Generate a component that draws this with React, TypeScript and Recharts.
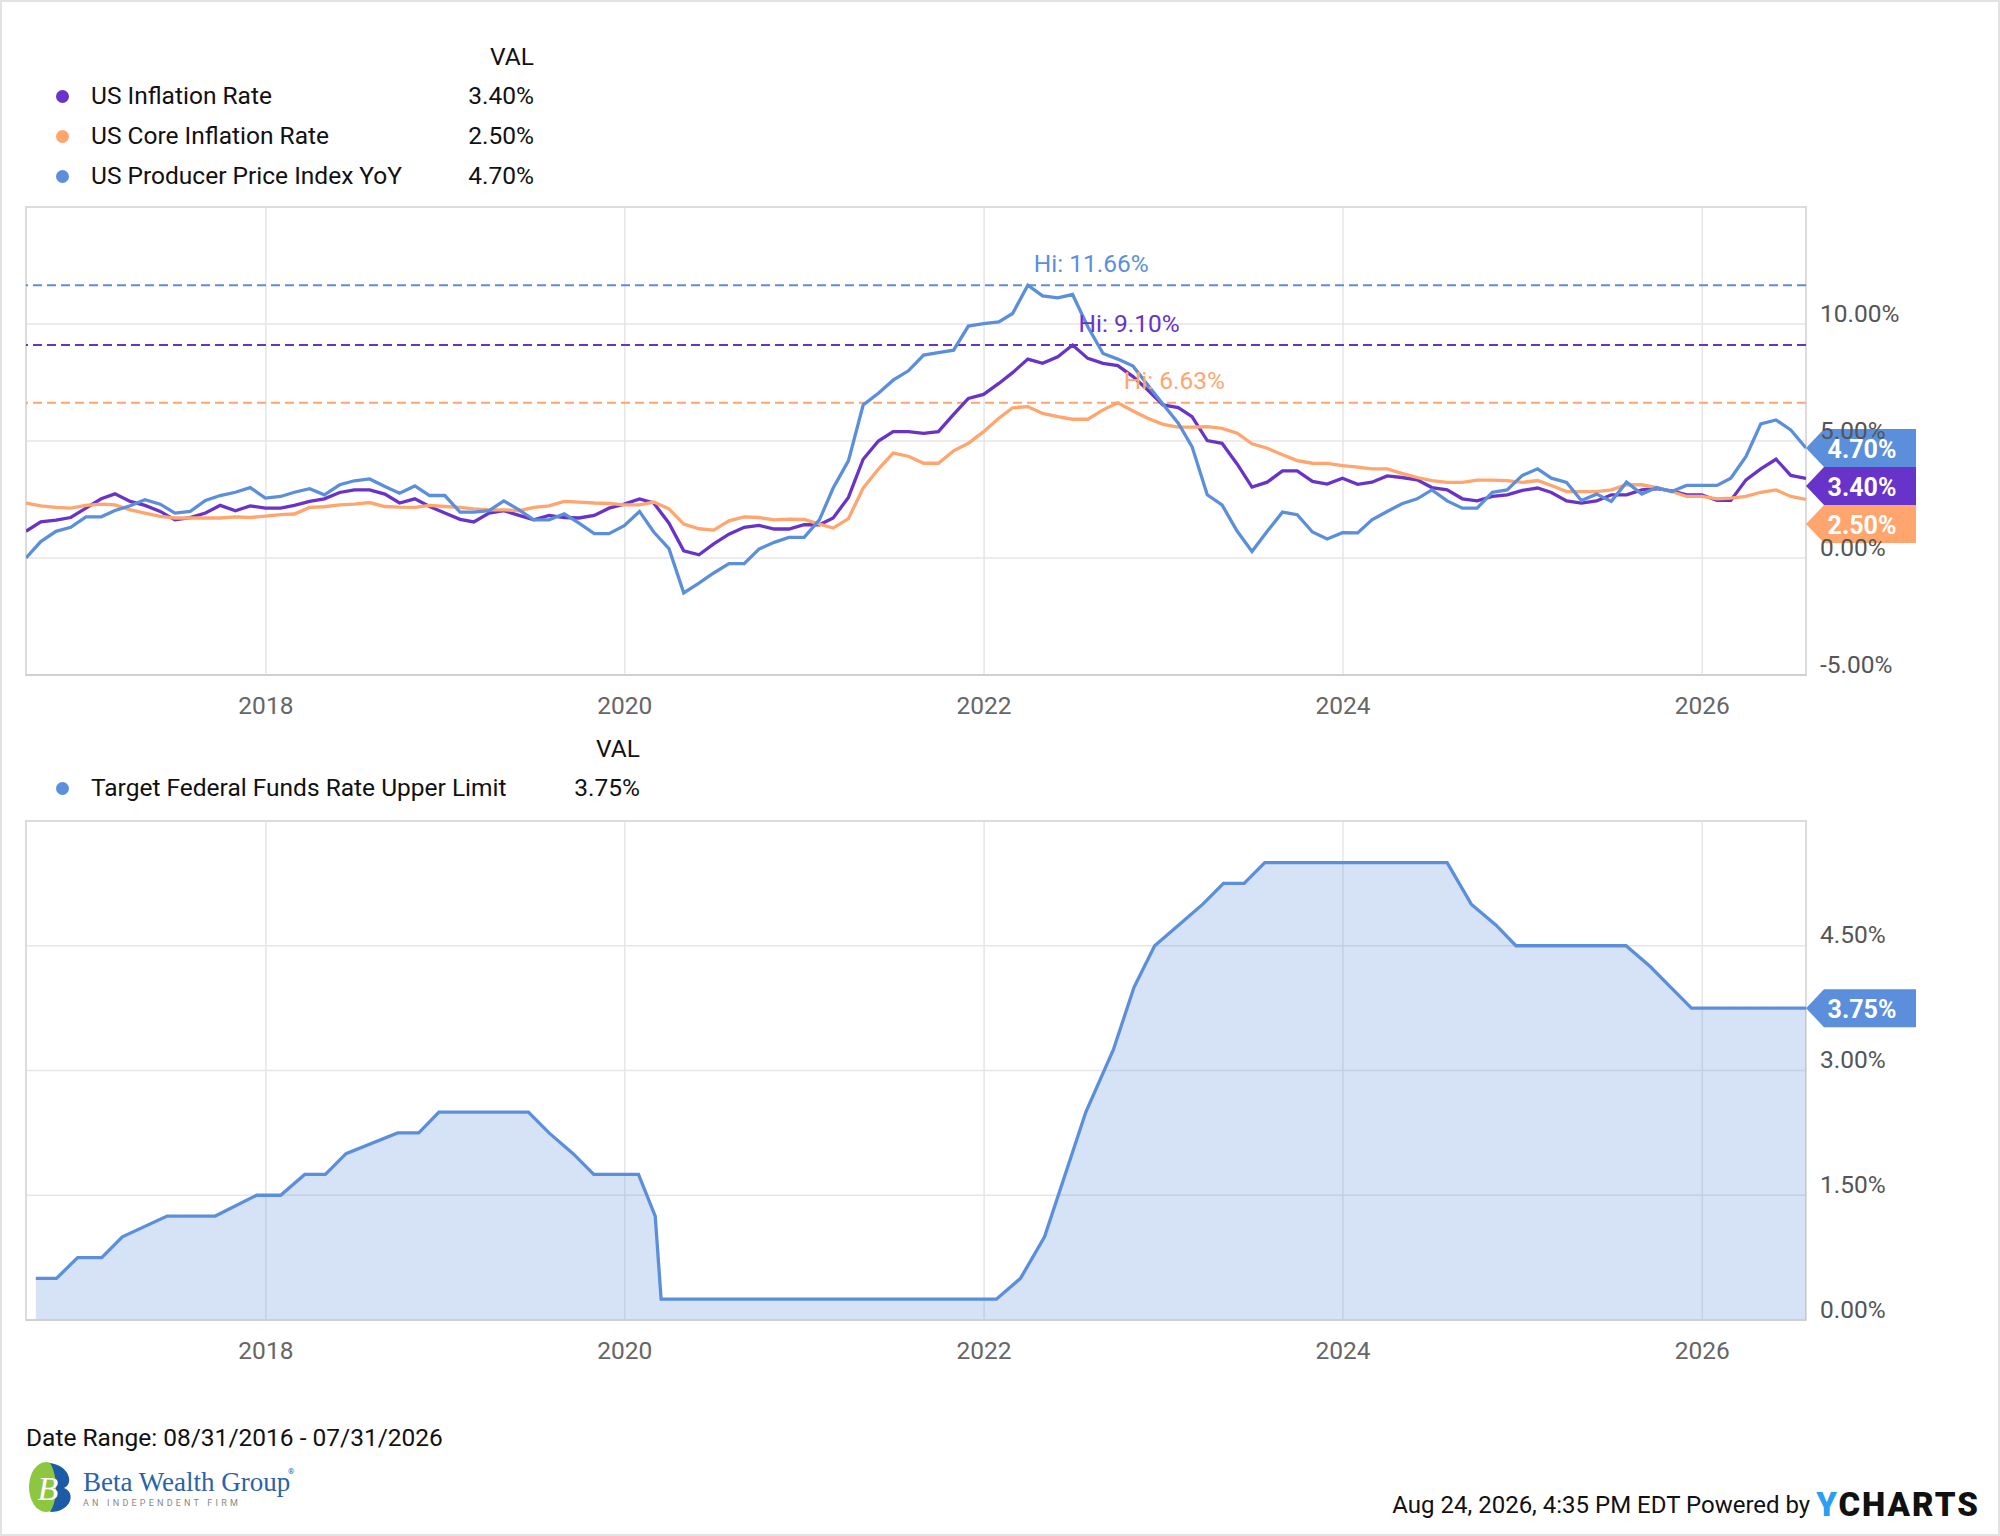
import React from 'react';
import {
  LineChart,
  Line,
  AreaChart,
  Area,
  XAxis,
  YAxis,
  CartesianGrid,
  ReferenceLine,
  ReferenceDot,
  ReferenceArea,
} from 'recharts';

// ---- data ----

// month-end observations 08/31/2016 .. 07/31/2026
const FIRST_MONTH = { year: 2016, month: 8 };
const MONTH_COUNT = 120;

const CPI = [
  1.14, 1.54, 1.62, 1.73, 2.13, 2.53, 2.74, 2.42, 2.25, 1.99, 1.63, 1.73,
  1.92, 2.25, 2.02, 2.23, 2.13, 2.13, 2.25, 2.42, 2.53, 2.8, 2.91, 2.91,
  2.73, 2.35, 2.53, 2.2, 1.92, 1.65, 1.54, 1.92, 2.02, 1.82, 1.63, 1.82,
  1.73, 1.71, 1.82, 2.13, 2.3, 2.52, 2.35, 1.49, 0.31, 0.14, 0.6, 1.02,
  1.31, 1.39, 1.24, 1.24, 1.42, 1.42, 1.71, 2.59, 4.22, 5.0, 5.4, 5.4,
  5.33, 5.4, 6.14, 6.82, 6.99, 7.46, 7.92, 8.5, 8.32, 8.6, 9.1, 8.53,
  8.32, 8.22, 7.75, 7.18, 6.54, 6.43, 6.04, 5.02, 4.9, 4.01, 3.03, 3.24,
  3.72, 3.72, 3.27, 3.16, 3.41, 3.15, 3.24, 3.51, 3.44, 3.34, 3.01, 2.91,
  2.53, 2.44, 2.63, 2.7, 2.89, 2.99, 2.8, 2.44, 2.35, 2.44, 2.7, 2.7,
  2.91, 2.96, 2.87, 2.7, 2.7, 2.46, 2.46, 3.34, 3.81, 4.22, 3.53, 3.4,
];

const CORE = [
  2.35, 2.23, 2.16, 2.13, 2.25, 2.3, 2.27, 2.06, 1.92, 1.78, 1.71, 1.71,
  1.71, 1.71, 1.76, 1.73, 1.79, 1.85, 1.88, 2.16, 2.19, 2.27, 2.3, 2.37,
  2.2, 2.17, 2.16, 2.25, 2.2, 2.16, 2.1, 2.06, 2.06, 2.02, 2.16, 2.23,
  2.42, 2.39, 2.35, 2.33, 2.27, 2.27, 2.39, 2.1, 1.45, 1.25, 1.19, 1.59,
  1.76, 1.73, 1.63, 1.66, 1.65, 1.45, 1.28, 1.68, 2.99, 3.8, 4.48, 4.35,
  4.05, 4.05, 4.58, 4.9, 5.4, 5.97, 6.42, 6.47, 6.18, 6.04, 5.93, 5.93,
  6.33, 6.63, 6.28, 5.97, 5.71, 5.59, 5.59, 5.61, 5.54, 5.33, 4.88, 4.69,
  4.41, 4.16, 4.05, 4.04, 3.95, 3.88, 3.81, 3.81, 3.62, 3.44, 3.31, 3.23,
  3.23, 3.33, 3.33, 3.31, 3.23, 3.31, 3.1, 2.84, 2.84, 2.84, 2.91, 3.13,
  3.13, 3.01, 2.84, 2.63, 2.63, 2.53, 2.56, 2.63, 2.81, 2.91, 2.63, 2.5,
];

const PPI = [
  0.0, 0.7, 1.14, 1.31, 1.76, 1.76, 2.03, 2.23, 2.49, 2.3, 1.92, 1.99,
  2.46, 2.67, 2.81, 3.01, 2.56, 2.63, 2.81, 2.96, 2.7, 3.13, 3.3, 3.38,
  3.06, 2.77, 3.08, 2.67, 2.67, 1.96, 1.96, 2.02, 2.44, 2.06, 1.63, 1.63,
  1.89, 1.49, 1.04, 1.04, 1.38, 1.99, 1.11, 0.4, -1.49, -1.07, -0.64, -0.24,
  -0.24, 0.38, 0.67, 0.88, 0.88, 1.63, 2.99, 4.15, 6.54, 7.04, 7.6, 8.0,
  8.67, 8.78, 8.88, 9.91, 10.02, 10.09, 10.45, 11.66, 11.2, 11.12, 11.26, 9.88,
  8.74, 8.5, 8.2, 7.39, 6.57, 5.76, 4.76, 2.7, 2.27, 1.14, 0.28, 1.14,
  1.96, 1.85, 1.11, 0.81, 1.08, 1.07, 1.63, 1.99, 2.32, 2.53, 2.91, 2.44,
  2.13, 2.13, 2.81, 2.91, 3.53, 3.81, 3.41, 3.23, 2.46, 2.73, 2.42, 3.24,
  2.73, 3.01, 2.84, 3.1, 3.1, 3.1, 3.41, 4.34, 5.73, 5.9, 5.47, 4.7,
];

const FED_DATES = [
  '2016-09-20', '2016-11-01', '2016-12-14', '2017-02-01', '2017-03-15',
  '2017-06-14', '2017-09-20', '2017-12-13', '2018-01-31', '2018-03-21',
  '2018-05-02', '2018-06-13', '2018-09-26', '2018-11-08', '2018-12-19',
  '2019-06-19', '2019-07-31', '2019-09-18', '2019-10-30', '2020-01-29',
  '2020-03-03', '2020-03-15', '2022-01-26', '2022-03-16', '2022-05-04',
  '2022-06-15', '2022-07-27', '2022-09-21', '2022-11-02', '2022-12-14',
  '2023-02-01', '2023-03-22', '2023-05-03', '2023-06-14', '2023-07-26',
  '2024-07-31', '2024-09-18', '2024-11-07', '2024-12-18', '2025-07-30',
  '2025-09-17', '2025-10-29', '2025-12-10', '2026-07-31',
];
const FED_RATE = [
  0.5, 0.5, 0.75, 0.75, 1.0,
  1.25, 1.25, 1.5, 1.5, 1.75,
  1.75, 2.0, 2.25, 2.25, 2.5,
  2.5, 2.25, 2.0, 1.75, 1.75,
  1.25, 0.25, 0.25, 0.5, 1.0,
  1.75, 2.5, 3.25, 4.0, 4.5,
  4.75, 5.0, 5.25, 5.25, 5.5,
  5.5, 5.0, 4.75, 4.5, 4.5,
  4.25, 4.0, 3.75, 3.75,
];

const YEAR_TICKS = [2018, 2020, 2022, 2024, 2026];
const INFLATION_TICKS = [-5, 0, 5, 10, 15];
const FED_TICKS = [0, 1.5, 3, 4.5, 6];

const BLUE = '#5b8fdb';
const PURPLE = '#6833c9';
const ORANGE = '#ffa56d';

const SERIES = [
  { key: 'cpi', name: 'US Inflation Rate', color: PURPLE, values: CPI },
  { key: 'core', name: 'US Core Inflation Rate', color: ORANGE, values: CORE },
  { key: 'ppi', name: 'US Producer Price Index YoY', color: BLUE, values: PPI },
];

// ---- derived tables ----

const monthEnds = Array.from({ length: MONTH_COUNT }, (_, i) =>
  Date.UTC(FIRST_MONTH.year, FIRST_MONTH.month + i, 0)
);
const X_DOMAIN = [monthEnds[0], monthEnds[monthEnds.length - 1]];
const xTicks = YEAR_TICKS.map((y) => Date.UTC(y, 0, 1));

const inflationData = monthEnds.map((t, i) => ({
  t,
  cpi: CPI[i],
  core: CORE[i],
  ppi: PPI[i],
}));

const fedData = FED_DATES.map((d, i) => ({ t: Date.parse(d), rate: FED_RATE[i] }));

const FONT = 'Roboto, "Open Sans", sans-serif';
const FS = 24.5;
const fmt = (v: number) => `${v.toFixed(2)}%`;

// ---- small render helpers ----

const XTick = (props: any) => {
  const { x, y, payload } = props;
  return (
    <text x={x} y={y + 30} textAnchor="middle" dominantBaseline="central" fill="#666" fontSize={FS} fontFamily={FONT}>
      {new Date(payload.value).getUTCFullYear()}
    </text>
  );
};

const makeYTick = (skip: number) => (props: any) => {
  const { x, y, payload } = props;
  if (payload.value === skip) return <g />;
  return (
    <text x={x + 14} y={y - 11} dominantBaseline="central" fill="#555" fontSize={FS} fontFamily={FONT}>
      {fmt(payload.value)}
    </text>
  );
};

const BADGE_H = 38;
const makeBadges = (items: { label: string; color: string }[]) => (props: any) => {
  const { cx, cy } = props;
  return (
    <g>
      {items.map((it, k) => {
        const yc = cy + k * BADGE_H;
        const x1 = cx + 18;
        const x2 = cx + 110;
        const d = `M${cx},${yc} L${x1},${yc - BADGE_H / 2} L${x2},${yc - BADGE_H / 2} L${x2},${yc + BADGE_H / 2} L${x1},${yc + BADGE_H / 2} Z`;
        return (
          <g key={it.label + k}>
            <path d={d} fill={it.color} />
            <text x={(x1 + x2) / 2 - 8} y={yc + 1} textAnchor="middle" dominantBaseline="central" fill="#fff" fontSize={25} fontWeight={700} fontFamily={FONT}>
              {it.label}
            </text>
          </g>
        );
      })}
    </g>
  );
};

const makeHiLabel = (text: string, color: string) => (props: any) => (
  <text x={props.cx + 6} y={props.cy - 22} dominantBaseline="central" fill={color} fontSize={FS} fontFamily={FONT}>
    {text}
  </text>
);

function Legend({ top, valRight, rows }: { top: number; valRight: number; rows: { name: string; color: string; value: number }[] }) {
  const line = (cy: number) => ({ position: 'absolute' as const, top: cy - 15, height: 30, lineHeight: '30px' });
  return (
    <>
      <div style={{ ...line(top), left: 0, width: valRight, textAlign: 'right', color: '#111' }}>VAL</div>
      {rows.map((r, k) => {
        const cy = top + 39 + k * 40;
        return (
          <React.Fragment key={r.name}>
            <div style={{ position: 'absolute', left: 54, top: cy - 6, width: 13, height: 13, borderRadius: 7, background: r.color }} />
            <div style={{ ...line(cy), left: 89, color: '#111', whiteSpace: 'nowrap' }}>{r.name}</div>
            <div style={{ ...line(cy), left: 0, width: valRight, textAlign: 'right', color: '#111' }}>{fmt(r.value)}</div>
          </React.Fragment>
        );
      })}
    </>
  );
}

function InflationChart() {
  const last = inflationData[inflationData.length - 1] as any;
  const ordered = [...SERIES].sort((a, b) => last[b.key] - last[a.key]);
  const peaks = SERIES.map((s) => {
    const max = Math.max(...s.values);
    return { ...s, max, t: monthEnds[s.values.indexOf(max)] };
  });
  return (
    <LineChart width={2000} height={560} data={inflationData} margin={{ top: 25, right: 0, bottom: 17, left: 24 }}>
      <CartesianGrid stroke="#e6e6e6" strokeWidth={1.5} />
      <ReferenceArea x1={X_DOMAIN[0]} x2={X_DOMAIN[1]} y1={-5} y2={15} fill="none" stroke="#dcdcdc" strokeWidth={2} />
      <XAxis
        dataKey="t"
        type="number"
        domain={X_DOMAIN}
        ticks={xTicks}
        tick={XTick}
        tickSize={0}
        tickMargin={0}
        height={50}
        axisLine={{ stroke: '#d0d0d0', strokeWidth: 2 }}
        tickLine={false}
        allowDataOverflow
      />
      <YAxis
        orientation="right"
        type="number"
        domain={[-5, 15]}
        ticks={INFLATION_TICKS}
        tick={makeYTick(15)}
        tickSize={0}
        tickMargin={0}
        width={196}
        axisLine={false}
        tickLine={false}
        allowDataOverflow
      />
      {peaks.map((p) => (
        <ReferenceLine key={`hl-${p.key}`} y={p.max} stroke={p.color} strokeWidth={2} strokeDasharray="9 5" />
      ))}
      {SERIES.map((s) => (
        <Line
          key={s.key}
          dataKey={s.key}
          type="linear"
          stroke={s.color}
          strokeWidth={3.3}
          dot={false}
          activeDot={false}
          isAnimationActive={false}
        />
      ))}
      {peaks.map((p) => (
        <ReferenceDot key={`hi-${p.key}`} x={p.t} y={p.max} r={0} shape={makeHiLabel(`Hi: ${fmt(p.max)}`, p.color)} />
      ))}
      <ReferenceDot
        x={last.t}
        y={last[ordered[0].key]}
        r={0}
        shape={makeBadges(ordered.map((s) => ({ label: fmt(last[s.key]), color: s.color })))}
      />
    </LineChart>
  );
}

function FedChart() {
  const last = fedData[fedData.length - 1];
  return (
    <AreaChart width={2000} height={580} data={fedData} margin={{ top: 19, right: 0, bottom: 12, left: 24 }}>
      <CartesianGrid stroke="#e6e6e6" strokeWidth={1.5} />
      <ReferenceArea x1={X_DOMAIN[0]} x2={X_DOMAIN[1]} y1={0} y2={6} fill="none" stroke="#dcdcdc" strokeWidth={2} />
      <XAxis
        dataKey="t"
        type="number"
        domain={X_DOMAIN}
        ticks={xTicks}
        tick={XTick}
        tickSize={0}
        tickMargin={0}
        height={50}
        axisLine={{ stroke: '#d0d0d0', strokeWidth: 2 }}
        tickLine={false}
        allowDataOverflow
      />
      <YAxis
        orientation="right"
        type="number"
        domain={[0, 6]}
        ticks={FED_TICKS}
        tick={makeYTick(6)}
        tickSize={0}
        tickMargin={0}
        width={196}
        axisLine={false}
        tickLine={false}
        allowDataOverflow
      />
      <Area
        dataKey="rate"
        type="linear"
        stroke={BLUE}
        strokeWidth={3.3}
        fill={BLUE}
        fillOpacity={0.25}
        dot={false}
        activeDot={false}
        isAnimationActive={false}
      />
      <ReferenceDot x={last.t} y={last.rate} r={0} shape={makeBadges([{ label: fmt(last.rate), color: BLUE }])} />
    </AreaChart>
  );
}

function Logo() {
  return (
    <div style={{ position: 'absolute', left: 24, top: 1458 }}>
      <svg width={290} height={56}>
        <ellipse cx={20} cy={27} rx={17} ry={25} fill="#8dc63f" />
        <path d="M24,3 C44,6 48,24 38,28 C50,32 46,52 24,52 C32,40 32,16 24,3 Z" fill="#1d5ba6" />
        <text x={22} y={40} fontFamily='"Liberation Serif", serif' fontStyle="italic" fontSize={34} fill="#fff" textAnchor="middle">B</text>
        <text x={57} y={31} fontFamily='"Liberation Serif", serif' fontSize={27} fill="#2a63a8">Beta Wealth Group</text>
        <text x={262} y={14} fontFamily={FONT} fontSize={8} fill="#2a63a8">®</text>
        <text x={57} y={46} fontFamily={FONT} fontSize={9} fill="#888" letterSpacing={3.2}>AN INDEPENDENT FIRM</text>
      </svg>
    </div>
  );
}

export default function App() {
  const lastRow = inflationData[inflationData.length - 1] as any;
  return (
    <div
      style={{
        position: 'absolute',
        left: 0,
        top: 0,
        width: 2000,
        height: 1536,
        boxSizing: 'border-box',
        border: '2px solid #e2e2e2',
        background: '#fff',
        fontFamily: FONT,
        fontSize: FS,
        overflow: 'hidden',
      }}
    >
      <Legend
        top={55}
        valRight={532}
        rows={SERIES.map((s) => ({ name: s.name, color: s.color, value: lastRow[s.key] }))}
      />
      <div style={{ position: 'absolute', left: 0, top: 180 }}>
        <InflationChart />
      </div>
      <Legend
        top={747}
        valRight={638}
        rows={[{ name: 'Target Federal Funds Rate Upper Limit', color: BLUE, value: fedData[fedData.length - 1].rate }]}
      />
      <div style={{ position: 'absolute', left: 0, top: 800 }}>
        <FedChart />
      </div>
      <div style={{ position: 'absolute', left: 24, top: 1421, height: 30, lineHeight: '30px', color: '#111' }}>
        Date Range: 08/31/2016 - 07/31/2026
      </div>
      <Logo />
      <div style={{ position: 'absolute', right: 18, top: 1484, height: 38, lineHeight: '38px', whiteSpace: 'nowrap', color: '#111' }}>
        <span style={{ fontSize: 24 }}>Aug 24, 2026, 4:35 PM EDT Powered by </span>
        <span style={{ fontSize: 33, fontWeight: 900, letterSpacing: 2, verticalAlign: 'top' }}>
          <span style={{ color: '#2a9df4' }}>Y</span>CHARTS
        </span>
      </div>
    </div>
  );
}
